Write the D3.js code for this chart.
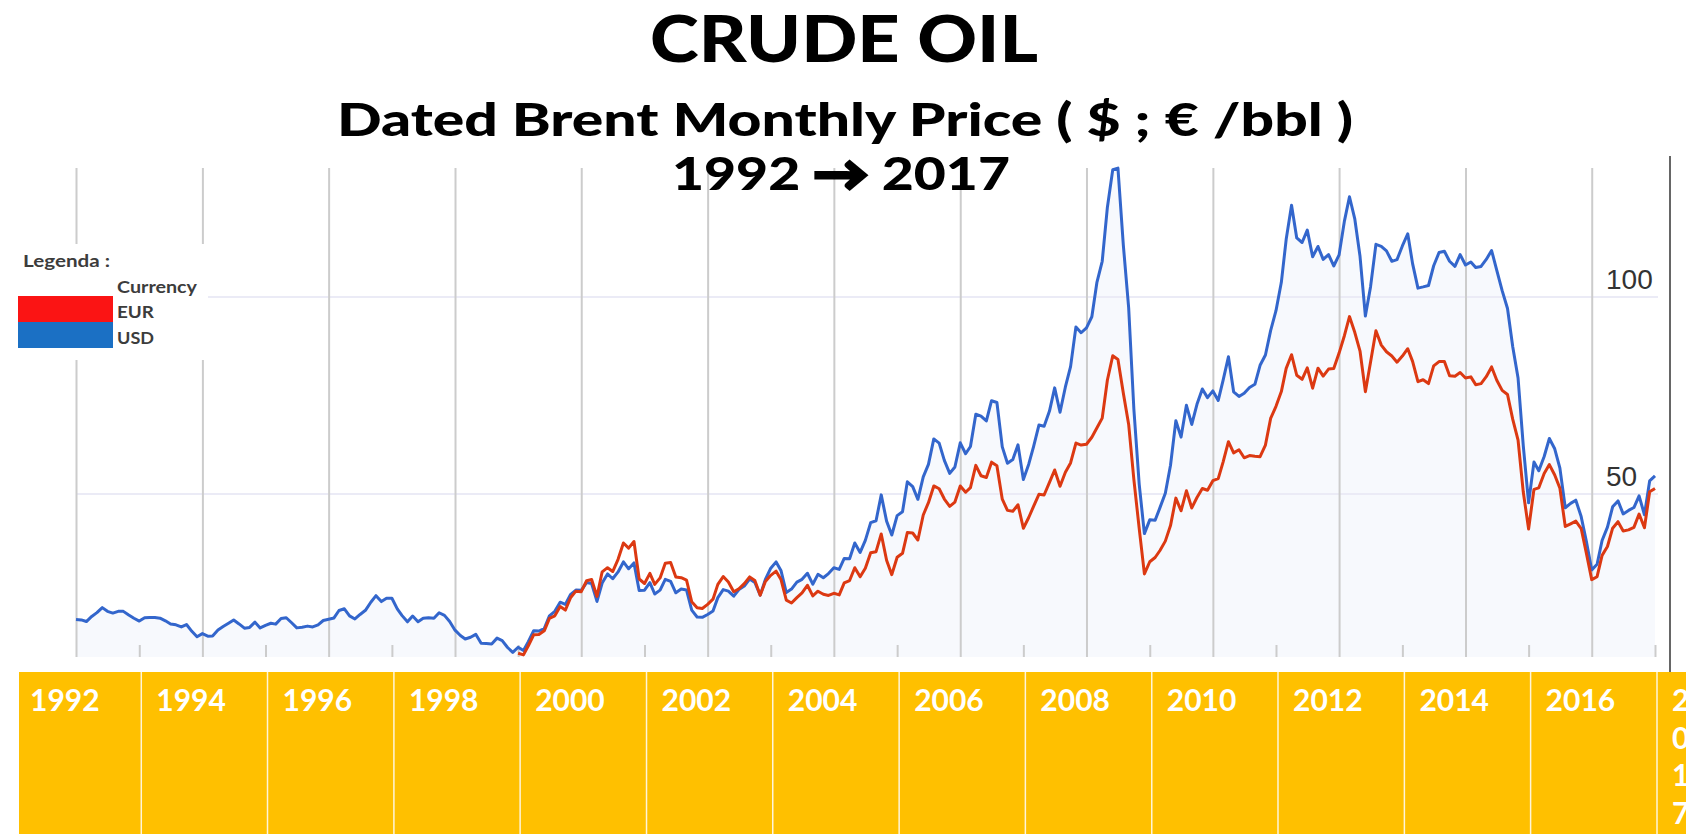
<!DOCTYPE html>
<html>
<head>
<meta charset="utf-8">
<script src="https://cdn.jsdelivr.net/npm/d3@7"></script>
<style>
  html, body { margin: 0; padding: 0; background: #fff; }
  svg { display: block; }
  .title { font-family: Lato, 'Open Sans', sans-serif; font-weight: 900; fill: #000; }
  .legend { font-family: Lato, 'Open Sans', sans-serif; font-weight: 700; font-size: 17px; fill: #3c3c3c; }
  .band { font-family: Lato, 'Open Sans', sans-serif; font-weight: 700; font-size: 30px; fill: #fff; }
  .ylab { font-family: 'Liberation Sans', Arial, sans-serif; font-size: 28px; fill: #333; }
</style>
</head>
<body>
<div id="chart"></div>
<script>
// DATED BRENT, MONTHLY AVERAGE, USD/bbl  (Jan 1992 -> Jan 2017)
var usd = [
  18.16, 18.05, 17.63, 18.92, 19.89, 21.16, 20.22, 19.77, 20.22, 20.21, 19.28, 18.47,
  17.75, 18.60, 18.66, 18.64, 18.49, 17.81, 17.00, 16.80, 16.26, 16.87, 15.15, 13.76,
  14.56, 13.92, 13.95, 15.47, 16.36, 17.20, 18.03, 17.02, 15.94, 16.14, 17.48, 16.01,
  16.66, 17.19, 16.97, 18.39, 18.59, 17.32, 16.02, 16.17, 16.47, 16.26, 16.80, 17.90,
  18.21, 18.54, 20.43, 20.87, 19.07, 18.29, 19.43, 20.48, 22.53, 24.19, 22.69, 23.53,
  23.54, 20.85, 19.13, 17.56, 19.02, 17.58, 18.46, 18.60, 18.46, 19.86, 19.19, 17.64,
  15.44, 14.07, 13.19, 13.65, 14.38, 12.14, 12.06, 11.94, 13.42, 12.80, 11.04, 9.82,
  11.11, 10.27, 12.51, 15.29, 15.23, 15.86, 19.08, 20.22, 22.54, 21.99, 24.54, 25.62,
  25.54, 27.52, 27.27, 22.73, 27.41, 29.71, 28.49, 30.22, 32.76, 31.02, 32.50, 25.51,
  25.60, 27.51, 24.62, 25.61, 28.35, 27.81, 24.92, 25.89, 25.63, 20.52, 18.79, 18.70,
  19.42, 20.28, 23.70, 25.73, 25.35, 24.08, 25.74, 26.65, 28.40, 27.54, 24.34, 28.33,
  31.18, 32.77, 30.61, 25.00, 25.86, 27.65, 28.35, 29.89, 27.11, 29.61, 28.75, 29.81,
  31.28, 30.86, 33.63, 33.59, 37.57, 35.18, 38.22, 42.74, 43.20, 49.78, 43.11, 39.60,
  44.51, 45.48, 53.10, 51.88, 48.65, 54.35, 57.52, 63.98, 62.91, 58.54, 55.24, 56.86,
  62.99, 60.21, 62.06, 70.26, 69.78, 68.56, 73.67, 73.23, 61.96, 57.81, 58.76, 62.47,
  53.68, 57.56, 62.05, 67.49, 67.21, 71.05, 76.93, 70.76, 77.17, 82.34, 92.41, 90.93,
  92.18, 94.99, 103.64, 109.07, 122.80, 132.32, 132.72, 113.24, 97.23, 71.58, 52.45, 39.95,
  43.44, 43.32, 46.54, 50.18, 57.30, 68.61, 64.44, 72.51, 67.65, 72.77, 76.66, 74.46,
  76.17, 73.75, 78.83, 84.82, 75.95, 74.76, 75.58, 77.04, 77.84, 82.67, 85.28, 91.45,
  96.52, 103.72, 114.64, 123.26, 114.99, 113.83, 116.97, 110.22, 112.83, 109.55, 110.77, 107.87,
  110.69, 119.33, 125.45, 119.75, 110.34, 95.16, 102.62, 113.36, 112.86, 111.71, 109.06, 109.49,
  112.96, 116.05, 108.47, 102.25, 102.56, 102.92, 107.93, 111.28, 111.60, 109.08, 107.79, 110.76,
  108.12, 108.90, 107.48, 107.76, 109.54, 111.80, 106.77, 101.61, 97.09, 87.43, 79.44, 62.34,
  47.76, 58.10, 55.89, 59.52, 64.08, 61.48, 56.56, 46.52, 47.62, 48.43, 44.27, 38.01,
  30.70, 32.18, 38.21, 41.58, 46.74, 48.25, 44.95, 45.84, 46.57, 49.52, 44.73, 53.31,
  54.58
];

// SAME, EUR/bbl  (Jan 1999 -> Jan 2017)
var eur = [
  9.57, 9.16, 11.49, 14.28, 14.33, 15.28, 18.43, 19.07, 21.46, 20.54, 23.74, 25.34,
  25.20, 27.98, 28.28, 24.00, 30.25, 31.30, 30.32, 33.43, 37.56, 36.27, 37.95, 28.43,
  27.28, 29.85, 27.07, 28.71, 32.43, 32.59, 28.95, 28.75, 28.13, 22.65, 21.15, 20.95,
  21.99, 23.31, 27.06, 29.05, 27.64, 25.20, 25.94, 27.26, 28.96, 28.07, 24.31, 27.82,
  29.35, 30.42, 28.32, 23.05, 22.33, 23.71, 24.93, 26.83, 24.16, 25.32, 24.57, 24.26,
  24.80, 24.40, 27.43, 28.03, 31.29, 28.98, 31.16, 35.10, 35.36, 39.86, 33.18, 29.53,
  33.93, 34.95, 40.22, 40.10, 38.33, 44.68, 47.79, 52.05, 51.33, 48.72, 46.87, 47.96,
  52.05, 50.44, 51.63, 57.26, 54.64, 54.20, 58.08, 57.16, 48.68, 45.84, 45.62, 47.28,
  41.30, 44.03, 46.86, 49.93, 49.74, 52.95, 56.09, 51.95, 55.53, 57.88, 62.93, 62.41,
  62.63, 64.41, 66.75, 69.25, 78.94, 85.08, 84.16, 75.62, 67.66, 53.73, 41.20, 29.71,
  32.81, 33.88, 35.66, 38.04, 41.98, 48.95, 45.74, 50.82, 46.46, 49.12, 51.40, 50.95,
  53.37, 53.89, 58.10, 63.27, 60.45, 61.23, 59.19, 59.75, 59.57, 59.48, 62.43, 69.18,
  72.25, 75.99, 81.89, 85.35, 80.14, 79.11, 82.00, 76.85, 81.94, 79.93, 81.71, 81.85,
  85.77, 90.24, 95.03, 90.98, 86.28, 75.97, 83.51, 91.42, 87.79, 86.10, 85.02, 83.46,
  85.01, 86.87, 83.67, 78.50, 79.00, 78.03, 82.52, 83.61, 83.61, 80.00, 79.89, 80.82,
  79.44, 79.73, 77.75, 78.01, 79.77, 82.25, 78.86, 76.31, 75.26, 68.99, 63.69, 50.56,
  41.10, 51.19, 51.57, 55.22, 57.47, 54.83, 51.44, 41.76, 42.44, 43.11, 41.23, 34.95,
  28.27, 29.01, 34.42, 36.67, 41.32, 42.97, 40.61, 40.89, 41.54, 44.91, 41.42, 50.56,
  51.42
];

var bandYears = ['1992', '1994', '1996', '1998', '2000', '2002', '2004', '2006', '2008', '2010', '2012', '2014', '2016'];
var lastYear = '2017';
var yTicks = [50, 100];
var legendItems = ['EUR', 'USD'];

// SETTINGS
var settings = {
   width: 1703,
   height: 834,
   plot: { left: 76, right: 1655, top: 168, bottom: 657 },
   colors: { usd: '#3366cc', eur: '#dc3912', grid: '#cccccc', hgrid: '#ebebf6', band: '#ffc000' }
};

var usdMonths = d3.timeMonth.range(new Date(1992, 0, 1), d3.timeMonth.offset(new Date(1992, 0, 1), usd.length));
var eurMonths = d3.timeMonth.range(new Date(1999, 0, 1), d3.timeMonth.offset(new Date(1999, 0, 1), eur.length));

var usdData = usd.map((v, i) => ({ date: usdMonths[i], v: v }));
var eurData = eur.map((v, i) => ({ date: eurMonths[i], v: v }));

// SCALES
var x = d3.scaleTime()
   .domain([new Date(1992, 0, 1), new Date(2017, 0, 1)])
   .range([settings.plot.left, settings.plot.right]);

var y = d3.scaleLinear()
   .domain([50, 100])
   .range([494, 297]);

var svg = d3.select('#chart').append('svg')
   .attr('width', settings.width)
   .attr('height', settings.height);

// AREA UNDER USD
svg.append('path')
   .datum(usdData)
   .attr('fill', settings.colors.usd)
   .attr('opacity', 0.04)
   .attr('d', d3.area().x(d => x(d.date)).y0(settings.plot.bottom).y1(d => y(d.v)));

// HORIZONTAL GRID
svg.selectAll('.hgrid').data(yTicks).enter()
   .append('line')
   .attr('x1', settings.plot.left).attr('x2', 1658)
   .attr('y1', d => y(d)).attr('y2', d => y(d))
   .attr('stroke', settings.colors.hgrid)
   .attr('stroke-width', 2);

// VERTICAL GRID EVERY 2 YEARS
var gridAxis = d3.axisBottom(x)
   .ticks(d3.timeYear.every(2))
   .tickSize(-(settings.plot.bottom - settings.plot.top))
   .tickFormat('');
var grid = svg.append('g')
   .attr('transform', 'translate(0,' + settings.plot.bottom + ')')
   .call(gridAxis);
grid.select('.domain').remove();
grid.selectAll('line').attr('stroke', settings.colors.grid).attr('stroke-width', 2);

// MINOR TICKS ON ODD YEARS
var minorAxis = d3.axisBottom(x)
   .tickValues(d3.range(1993, 2018, 2).map(yr => new Date(yr, 0, 1)))
   .tickSize(-12)
   .tickFormat('');
var minor = svg.append('g')
   .attr('transform', 'translate(0,' + settings.plot.bottom + ')')
   .call(minorAxis);
minor.select('.domain').remove();
minor.selectAll('line').attr('stroke', settings.colors.grid).attr('stroke-width', 2);

// RIGHT AXIS LINE
svg.append('line')
   .attr('x1', 1670).attr('x2', 1670)
   .attr('y1', 156).attr('y2', 672)
   .attr('stroke', '#666').attr('stroke-width', 2);

// LINES
var line = d3.line().x(d => x(d.date)).y(d => y(d.v));

svg.append('path')
   .datum(usdData)
   .attr('fill', 'none')
   .attr('stroke', settings.colors.usd)
   .attr('stroke-width', 3)
   .attr('stroke-linejoin', 'round')
   .attr('d', line);

svg.append('path')
   .datum(eurData)
   .attr('fill', 'none')
   .attr('stroke', settings.colors.eur)
   .attr('stroke-width', 3)
   .attr('stroke-linejoin', 'round')
   .attr('d', line);

// Y LABELS
svg.selectAll('.ylab').data(yTicks).enter()
   .append('text')
   .attr('class', 'ylab')
   .attr('x', 1606)
   .attr('y', d => y(d) - 8)
   .text(d => d);

// TITLES
svg.append('text').attr('class', 'title')
   .attr('x', 650).attr('y', 62)
   .attr('font-size', 64)
   .attr('textLength', 388).attr('lengthAdjust', 'spacingAndGlyphs')
   .text('CRUDE OIL');

svg.append('text').attr('class', 'title')
   .attr('x', 337).attr('y', 136)
   .attr('font-size', 46)
   .attr('textLength', 1016).attr('lengthAdjust', 'spacingAndGlyphs')
   .text('Dated Brent Monthly Price ( $ ; € /bbl )');

var years = svg.append('text').attr('class', 'title')
   .attr('x', 672).attr('y', 190)
   .attr('font-size', 46)
   .attr('textLength', 338).attr('lengthAdjust', 'spacingAndGlyphs');
years.append('tspan').text('1992 ');
years.append('tspan').attr('stroke', '#000').attr('stroke-width', 3).text('\u2192');
years.append('tspan').text(' 2017');

// LEGEND
var legend = svg.append('g');
legend.append('rect')
   .attr('x', 10).attr('y', 244).attr('width', 198).attr('height', 116)
   .attr('fill', '#fff');
legend.append('text').attr('class', 'legend').attr('x', 23).attr('y', 267)
   .attr('textLength', 87).attr('lengthAdjust', 'spacingAndGlyphs').text('Legenda :');
legend.append('text').attr('class', 'legend').attr('x', 117).attr('y', 293)
   .attr('textLength', 80).attr('lengthAdjust', 'spacingAndGlyphs').text('Currency');
legend.selectAll('.swatch').data(legendItems).enter()
   .append('rect')
   .attr('x', 18)
   .attr('y', (d, i) => 296 + i * 26)
   .attr('width', 95).attr('height', 26)
   .attr('fill', (d, i) => i === 0 ? '#fb1414' : '#1b70c4');
legend.selectAll('.item').data(legendItems).enter()
   .append('text')
   .attr('class', 'legend')
   .attr('x', 117)
   .attr('y', (d, i) => 318 + i * 26)
   .attr('textLength', 37).attr('lengthAdjust', 'spacingAndGlyphs')
   .text(d => d);

// YEAR BAND
var band = svg.append('g');
band.append('clipPath').attr('id', 'bandclip')
   .append('rect').attr('x', 19).attr('y', 672).attr('width', 1667).attr('height', 162);
band.append('rect')
   .attr('x', 19).attr('y', 672).attr('width', 1667).attr('height', 162)
   .attr('fill', settings.colors.band);

band.selectAll('.div').data(d3.range(1993, 2018, 2)).enter()
   .append('line')
   .attr('x1', d => x(new Date(d, 0, 1)) + 2).attr('x2', d => x(new Date(d, 0, 1)) + 2)
   .attr('y1', 672).attr('y2', 834)
   .attr('stroke', '#fff').attr('stroke-width', 1.5).attr('opacity', 0.85);

band.selectAll('.yl').data(bandYears).enter()
   .append('text')
   .attr('class', 'band')
   .attr('x', (d, i) => i === 0 ? 30 : x(new Date(+d - 1, 0, 1)) + 17)
   .attr('y', 711)
   .text(d => d);

band.append('g').attr('clip-path', 'url(#bandclip)')
   .selectAll('text').data(lastYear.split('')).enter()
   .append('text')
   .attr('class', 'band')
   .attr('x', x(new Date(2017, 0, 1)) + 17)
   .attr('y', (d, i) => 711 + i * 37.5)
   .text(d => d);
</script>
</body>
</html>
